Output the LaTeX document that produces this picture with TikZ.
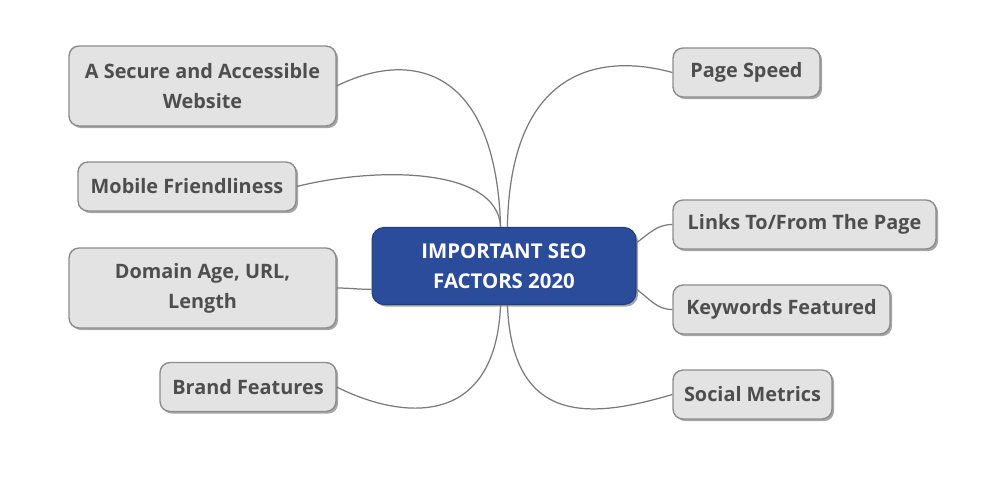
\documentclass[tikz,border=0pt]{standalone}
\usepackage{fontspec}
\setmainfont{Open Sans}
\usetikzlibrary{positioning, shadows}
\definecolor{HubBlue}{HTML}{2B4C9A}
\definecolor{LeafFill}{HTML}{E3E3E3}
\definecolor{LeafDraw}{HTML}{8C8C8C}
\definecolor{LeafText}{HTML}{4E4E4E}
\definecolor{Wire}{HTML}{7A7A7A}

\begin{document}
\begin{tikzpicture}[
    x={(0.02cm, 0cm)},    % one unit = one pixel, to the right
    y={(0cm, -0.02cm)},   % one unit = one pixel, downwards
    leaf/.style={draw=LeafDraw, line width=0.8pt, fill=LeafFill, rounded corners=0.2cm,
        text=LeafText, font=\fontsize{11.3}{17}\selectfont\bfseries, align=center,
        inner sep=0pt, minimum height=0.98cm,
        drop shadow={shadow xshift=1.2pt, shadow yshift=-1.2pt, fill=black, opacity=0.35}},
    hub/.style={draw=HubBlue!80!black, line width=0.6pt, fill=HubBlue, rounded corners=0.24cm,
        text=white, font=\fontsize{11.6}{17}\selectfont\bfseries, align=center,
        inner sep=0pt, minimum width=5.28cm, minimum height=1.54cm,
        drop shadow={shadow xshift=1.2pt, shadow yshift=-1.2pt, fill=black, opacity=0.35}},
    wire/.style={draw=Wire, line width=0.7pt}
]
    % === CANVAS ===
    \useasboundingbox (0,0) rectangle (1000,491);

    % === CENTRAL TOPIC ===
    \node[hub] (seo) at (504,266) {IMPORTANT SEO\\FACTORS 2020};

    % === LEFT BRANCHES ===
    \node[leaf, minimum width=5.34cm, minimum height=1.6cm] (secure) at (202.5,86) {A Secure and Accessible\\Website};
    \node[leaf, minimum width=4.36cm] (mobile) at (187,186.5) {Mobile Friendliness};
    \node[leaf, minimum width=5.34cm, minimum height=1.6cm] (domain) at (202.5,288) {Domain Age, URL,\\Length};
    \node[leaf, minimum width=3.52cm] (brand) at (248,387) {Brand Features};

    % === RIGHT BRANCHES ===
    \node[leaf, minimum width=2.94cm] (speed) at (746.5,72.5) {Page Speed};
    \node[leaf, minimum width=5.26cm] (links) at (804.5,224.5) {Links To/From The Page};
    \node[leaf, minimum width=4.34cm] (keywords) at (781.5,309.5) {Keywords Featured};
    \node[leaf, minimum width=3.18cm] (social) at (752.5,394.5) {Social Metrics};

    % === CONNECTORS ===
    % upper ones leave the top of the hub, lower ones its bottom
    \draw[wire] (seo.95) .. controls +(-5,-165) and +(70,-35) .. (secure.east);
    \draw[wire] (seo.95) .. controls +(-3,-60) and +(80,-20) .. (mobile.east);
    \draw[wire] (seo.85) .. controls +(3,-165) and +(-65,-18) .. (speed.west);
    \draw[wire] (seo.10) to[out=35, in=180] (links.west);
    \draw[wire] (seo.350) to[out=-35, in=180] (keywords.west);
    \draw[wire] (seo.190) to[out=180, in=0] (domain.east);
    \draw[wire] (seo.265) .. controls +(-5,120) and +(70,35) .. (brand.east);
    \draw[wire] (seo.275) .. controls +(5,125) and +(-75,22) .. (social.west);

\end{tikzpicture}
\end{document}
